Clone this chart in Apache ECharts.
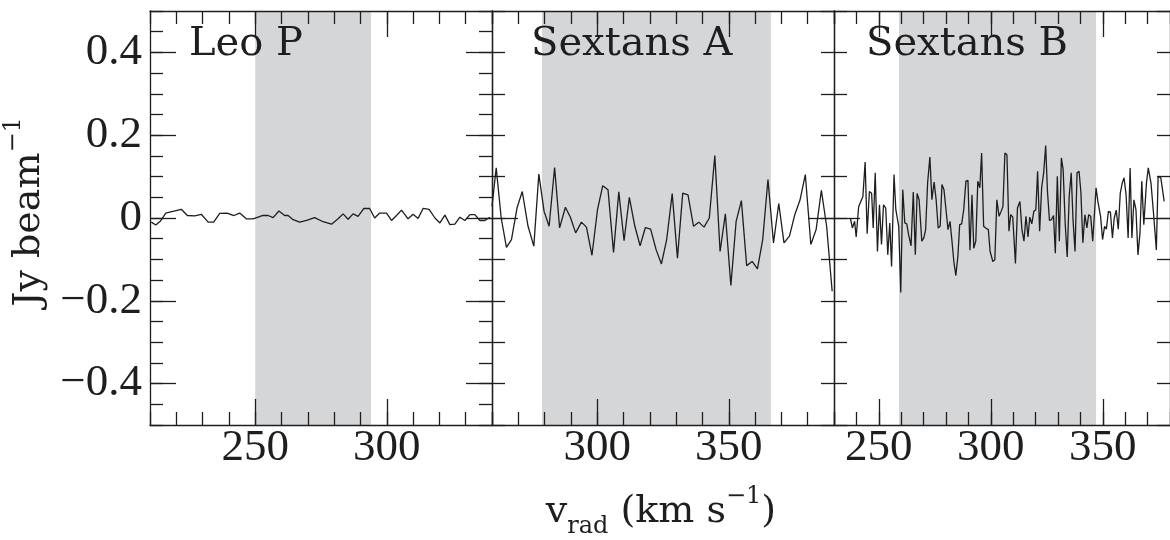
<!DOCTYPE html>
<html>
<head>
<meta charset="utf-8">
<script src="https://cdn.jsdelivr.net/npm/echarts@6/dist/echarts.min.js"></script>
<style>html,body{margin:0;padding:0;background:#fff}#c{width:1170px;height:540px}</style>
</head>
<body>
<div id="c"></div>
<script>
// ---- data ----
const panelNames = ['Leo P', 'Sextans A', 'Sextans B'];
const xRanges = [[210, 340], [260, 390], [230, 380]];
const xMajorTicks = [[250, 300], [300, 350], [250, 300, 350]];
const shadeRanges = [[250, 294], [279, 366], [259, 347]];
const yRange = [-0.5, 0.5];
const yMajorTicks = [-0.4, -0.2, 0, 0.2, 0.4];

const leoV = [210.5,212.2,213.9,216.0,218.7,221.9,224.2,227.0,229.5,232.1,234.2,236.5,239.3,241.9,244.1,246.6,249.2,252.7,254.9,256.8,259.0,261.2,262.5,264.4,266.9,269.5,272.6,275.8,279.0,281.5,283.4,285.3,287.2,289.1,291.3,293.5,295.4,297.3,299.9,301.8,303.7,305.6,308.1,310.0,311.9,313.8,316.1,318.3,320.2,322.1,324.0,325.9,327.8,329.7,331.6,333.5,335.4,337.3,339.2];
const leoF = [-0.010,-0.017,-0.008,0.012,0.016,0.021,0.006,0.005,0.009,-0.010,-0.010,0.011,0.012,0.006,0.012,-0.002,-0.002,0.006,0.006,0.001,0.017,0.006,0.006,-0.004,-0.010,-0.006,0.001,-0.009,-0.015,-0.002,0.010,-0.003,0.010,0.004,0.023,0.023,0.000,0.012,0.012,-0.006,0.006,0.019,-0.002,0.009,-0.001,0.023,0.021,0.000,-0.012,0.007,-0.016,-0.015,0.002,-0.006,0.008,0.008,-0.006,-0.006,0.002];

const sexAV = [260.0,261.6,263.5,265.5,267.4,269.5,271.5,273.7,275.9,277.8,279.8,281.7,283.8,285.7,287.9,289.8,291.8,294.0,295.9,298.0,300.1,302.1,304.1,306.2,308.2,310.2,312.2,314.3,316.3,318.3,320.3,322.4,324.4,326.4,328.5,330.5,332.5,334.5,336.6,338.6,340.6,342.6,344.7,346.7,348.7,350.8,352.8,354.8,356.8,358.9,360.9,362.9,364.9,367.0,369.0,371.0,373.1,375.1,377.1,379.1,381.2,383.2,385.2,387.2,389.3];
const sexAF = [0.028,0.121,0.000,-0.071,-0.052,0.024,0.064,-0.020,-0.068,0.106,0.016,-0.020,0.122,-0.024,0.026,0.002,-0.036,-0.010,-0.022,-0.090,0.020,0.078,0.068,-0.083,0.063,-0.055,0.050,-0.020,-0.067,-0.023,-0.027,-0.077,-0.111,-0.052,0.059,-0.097,0.060,0.056,-0.020,-0.010,-0.022,0.000,0.151,-0.081,0.010,-0.163,-0.008,0.042,-0.115,-0.105,-0.123,-0.052,0.093,-0.060,0.035,-0.060,-0.043,0.008,0.044,0.105,-0.064,-0.028,0.067,-0.020,-0.177];

const sexBV = [237.3,238.2,239.2,239.9,241.0,242.9,243.9,244.8,245.8,246.8,247.5,248.4,249.4,250.3,251.2,252.1,253.1,254.0,254.9,255.7,256.8,257.6,258.9,259.8,260.7,261.6,262.5,263.3,264.4,265.4,266.3,267.1,268.0,269.2,270.1,270.9,271.8,272.8,273.7,274.7,275.6,276.5,277.4,278.2,279.1,280.0,280.9,281.8,282.6,283.5,284.4,285.3,286.1,287.0,287.9,288.9,289.8,290.7,291.6,292.4,293.3,294.2,295.1,295.9,296.8,297.7,298.9,299.7,300.9,301.8,302.7,303.7,304.6,305.4,306.3,307.2,308.1,308.9,309.8,311.0,311.9,313.0,313.9,314.8,315.7,316.6,317.4,318.3,319.2,320.1,320.9,321.8,322.7,323.6,324.5,325.3,326.2,327.1,328.0,328.8,329.7,330.6,331.5,332.3,333.2,334.1,335.0,335.9,336.7,337.6,338.5,339.4,340.2,341.1,342.0,342.9,343.7,344.6,345.5,347.0,347.8,349.0,349.9,350.8,351.6,352.5,353.4,354.3,355.1,356.0,356.9,357.8,358.7,359.5,360.4,361.3,362.2,363.0,363.9,364.8,365.7,366.6,367.4,368.3,369.5,370.3,371.5,372.7,373.9,374.7,375.9,377.4];
const sexBF = [0.000,-0.024,-0.008,-0.046,0.027,0.052,0.135,-0.038,0.064,0.060,-0.024,0.109,-0.081,0.032,-0.064,0.032,0.024,-0.089,-0.012,-0.117,0.105,0.020,-0.020,-0.180,0.068,-0.012,-0.014,-0.040,-0.067,0.063,-0.089,0.059,0.044,-0.056,-0.048,-0.028,0.085,0.147,0.044,0.087,0.044,-0.024,-0.020,0.081,0.068,0.020,-0.028,-0.008,-0.052,-0.105,-0.139,-0.093,-0.016,-0.014,0.020,0.089,0.091,-0.078,0.056,-0.073,-0.056,0.089,0.073,0.157,-0.020,-0.024,-0.028,-0.081,-0.105,-0.101,0.044,0.004,0.016,0.027,0.157,0.153,-0.032,0.008,0.002,-0.110,0.024,0.040,-0.028,-0.056,0.004,-0.046,0.002,-0.014,0.016,0.020,0.113,-0.032,0.073,0.109,0.175,0.064,-0.006,-0.004,0.006,-0.085,0.101,-0.056,0.145,0.117,-0.012,-0.094,0.052,0.109,-0.004,-0.081,0.109,0.113,0.064,-0.060,0.008,-0.024,0.008,0.004,-0.056,0.073,0.040,0.004,-0.052,-0.020,-0.027,0.016,0.014,-0.048,0.000,0.019,-0.027,0.060,0.085,0.097,0.056,-0.048,0.121,-0.048,0.044,0.020,-0.089,-0.036,0.089,-0.016,0.085,0.121,0.085,0.008,-0.077,0.101,0.097,0.040];

const spectraV = [leoV, sexAV, sexBV];
const spectraF = [leoF, sexAF, sexBF];

// ---- styling / layout ----
const INK = '#1e1e1e';
const SHADE = '#d5d6d8';
const gridLefts = [150, 492, 834];
const gridW = 342, gridTop = 11, gridH = 414;
const yMinorStep = [0.05, 0.1, 0.1];
const tickFont = 'Liberation Serif';
const textFont = 'DejaVu Serif';
const lineSt = { color: INK, width: 1.3 };

function fmtY(v) {
  const r = Math.round(v * 10) / 10;
  if (r === 0) return '0';
  return (r < 0 ? '\u2212' : '') + Math.abs(r).toFixed(1);
}

const grids = [], xAxes = [], yAxes = [], series = [];
for (let i = 0; i < 3; i++) {
  grids.push({ left: gridLefts[i], top: gridTop, width: gridW, height: gridH, containLabel: false });
  const [xmin, xmax] = xRanges[i];
  const xBase = { type: 'value', gridIndex: i, min: xmin, max: xmax, splitLine: { show: false }, z: 2 };
  const yBase = { type: 'value', gridIndex: i, min: yRange[0], max: yRange[1], splitLine: { show: false }, z: 2 };
  ['bottom', 'top'].forEach(pos => {
    xAxes.push(Object.assign({}, xBase, {
      position: pos, interval: 10,
      axisLine: { show: true, onZero: false, lineStyle: lineSt },
      axisTick: { show: true, inside: true, length: 13, lineStyle: lineSt },
      axisLabel: { show: false }
    }));
    xAxes.push(Object.assign({}, xBase, {
      position: pos,
      axisLine: { show: false, onZero: false },
      axisTick: { show: true, inside: true, length: 26, lineStyle: lineSt, customValues: xMajorTicks[i] },
      axisLabel: pos === 'bottom' ? {
        show: true, customValues: xMajorTicks[i], margin: 1,
        fontFamily: tickFont, fontSize: 45, color: INK
      } : { show: false }
    }));
  });
  const yMaj = i === 0 ? yMajorTicks : [0];
  ['left', 'right'].forEach(pos => {
    yAxes.push(Object.assign({}, yBase, {
      position: pos, interval: yMinorStep[i],
      axisLine: { show: true, onZero: false, lineStyle: lineSt },
      axisTick: { show: true, inside: true, length: 13, lineStyle: lineSt },
      axisLabel: { show: false }
    }));
    yAxes.push(Object.assign({}, yBase, {
      position: pos,
      axisLine: { show: false, onZero: false },
      axisTick: { show: true, inside: true, length: 26, lineStyle: lineSt, customValues: yMaj },
      axisLabel: (i === 0 && pos === 'left') ? {
        show: true, customValues: yMajorTicks, margin: 8, formatter: fmtY,
        fontFamily: tickFont, fontSize: 45, color: INK
      } : { show: false }
    }));
  });
  // shaded velocity window
  series.push({
    type: 'line', xAxisIndex: 4 * i, yAxisIndex: 4 * i, data: [], z: 1, silent: true,
    markArea: { silent: true, itemStyle: { color: SHADE },
      data: [[{ xAxis: shadeRanges[i][0] }, { xAxis: shadeRanges[i][1] }]] }
  });
  const V = spectraV[i], F = spectraF[i];
  const n = Math.min(V.length, F.length);
  const pts = [];
  for (let k = 0; k < n; k++) pts.push([V[k], F[k]]);
  series.push({
    type: 'line', name: panelNames[i], xAxisIndex: 4 * i, yAxisIndex: 4 * i, data: pts, z: 3,
    showSymbol: false, symbol: 'none', clip: true,
    lineStyle: { color: INK, width: 1.3 }
  });
}

const titleX = [189, 531, 866];
const graphics = panelNames.map((nm, i) => ({
  type: 'text', left: titleX[i], top: 25, z: 10,
  style: { text: nm, font: '40px "' + textFont + '"', fill: INK }
}));
graphics.push({
  type: 'text', x: 25, y: 212, rotation: Math.PI / 2, z: 10,
  style: {
    text: '{m|Jy beam}{sup|\u22121}', align: 'center', verticalAlign: 'middle',
    rich: {
      m: { fontFamily: textFont, fontSize: 38, fill: INK, lineHeight: 46, verticalAlign: 'bottom' },
      sup: { fontFamily: textFont, fontSize: 24, fill: INK, lineHeight: 46, verticalAlign: 'top' }
    }
  }
});
graphics.push({
  type: 'text', x: 661, y: 512, z: 10,
  style: {
    text: '{m|v}{sub|rad}{m| (km s}{sup|\u22121}{m|)}', align: 'center', verticalAlign: 'middle',
    rich: {
      m: { fontFamily: textFont, fontSize: 38, fill: INK, lineHeight: 54, verticalAlign: 'middle' },
      sub: { fontFamily: textFont, fontSize: 24, fill: INK, lineHeight: 54, verticalAlign: 'bottom' },
      sup: { fontFamily: textFont, fontSize: 24, fill: INK, lineHeight: 54, verticalAlign: 'top' }
    }
  }
});

const chart = echarts.init(document.getElementById('c'), null, { renderer: 'canvas' });
chart.setOption({
  animation: false,
  backgroundColor: '#ffffff',
  grid: grids,
  xAxis: xAxes,
  yAxis: yAxes,
  series: series,
  graphic: graphics
});
</script>
</body>
</html>
